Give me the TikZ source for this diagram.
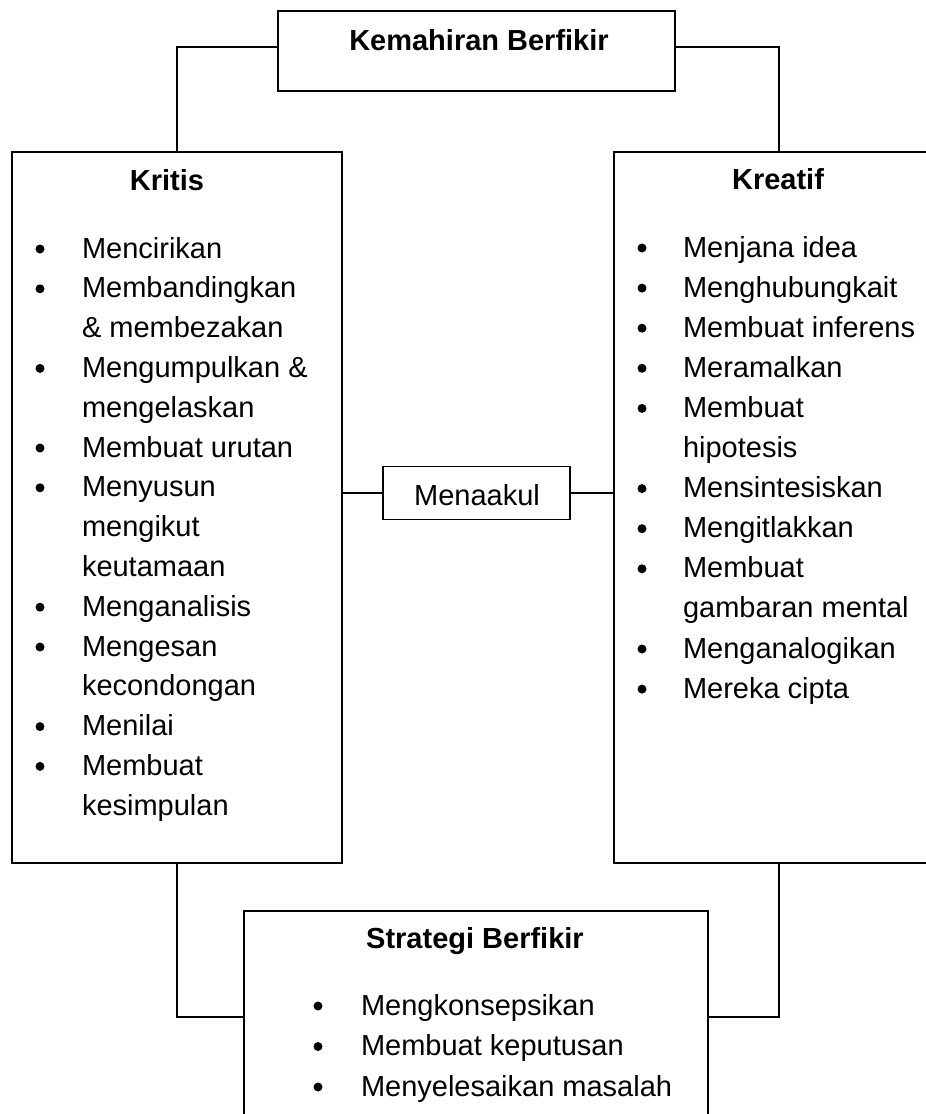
\documentclass[tikz,border=0pt]{standalone}
\usepackage{fontspec}
\setmainfont{Liberation Sans}
\begin{document}
\begin{tikzpicture}[x=1pt,y=-1pt,line width=1.6pt,
  every node/.style={inner sep=0pt,outer sep=0pt},
  box/.style={draw,rectangle},
  txt/.style={anchor=base west,font=\fontsize{29}{40}\selectfont},
  bul/.style={anchor=base,font=\fontsize{29}{40}\selectfont},
  dot/.style={circle,fill=black,draw=none,minimum size=9pt},
  head/.style={anchor=base,font=\fontsize{29}{40}\selectfont\bfseries},
  link/.style={line width=1.6pt}]
\clip (0,0) rectangle (926,1114);
\fill[white] (0,0) rectangle (926,1114);

% boxes
\node[box,minimum width=397pt,minimum height=80pt] (top) at (476.5,51) {};
\node[box,minimum width=330pt,minimum height=711pt] (kritis) at (177,507.5) {};
\node[box,minimum width=330pt,minimum height=711pt] (kreatif) at (779,507.5) {};
\node[box,minimum width=187pt,minimum height=53pt] (men) at (476.5,493) {};
\node[box,minimum width=464pt,minimum height=212pt] (strat) at (476,1017) {};

% connectors
\draw[link] ([yshift=4pt]top.west) -| (kritis.north);
\draw[link] ([yshift=4pt]top.east) -| (kreatif.north);
\draw[link] (kritis.east |- men.west) -- (men.west);
\draw[link] (men.east) -- (kreatif.west |- men.east);
\draw[link] (kritis.south) |- (strat.west);
\draw[link] (kreatif.south) |- (strat.east);

% headings
\node[head] (toptxt) at (479,50) {Kemahiran Berfikir};
\node[head] (krtxt) at (167,190) {Kritis};
\node[head] (kftxt) at (778,189) {Kreatif};
\node[head] (sttxt) at (475,948) {Strategi Berfikir};
\node[bul] (mentxt) at (477,505) {Menaakul};

% left list
\foreach \b/\t [count=\i from 0] in {1/Mencirikan,1/Membandingkan,0/\& membezakan,1/Mengumpulkan \&,0/mengelaskan,1/Membuat urutan,1/Menyusun,0/mengikut,0/keutamaan,1/Menganalisis,1/Mengesan,0/kecondongan,1/Menilai,1/Membuat,0/kesimpulan}{
  \node[txt] (kl\i) at (82,258+39.8*\i) {\t};
  \ifnum\b=1 \node[dot] (klb\i) at (40,249+39.8*\i) {}; \fi
}

% right list
\foreach \b/\t [count=\i from 0] in {1/Menjana idea,1/Menghubungkait,1/Membuat inferens,1/Meramalkan,1/Membuat,0/hipotesis,1/Mensintesiskan,1/Mengitlakkan,1/Membuat,0/gambaran mental,1/Menganalogikan,1/Mereka cipta}{
  \node[txt] (kr\i) at (683,257+40.1*\i) {\t};
  \ifnum\b=1 \node[dot] (krb\i) at (642,248+40.1*\i) {}; \fi
}

% bottom list
\foreach \t [count=\i from 0] in {Mengkonsepsikan,Membuat keputusan,Menyelesaikan masalah}{
  \node[txt] (sb\i) at (361,1015+40.5*\i) {\t};
  \node[dot] (sbb\i) at (318,1006+40.5*\i) {};
}
\end{tikzpicture}
\end{document}
